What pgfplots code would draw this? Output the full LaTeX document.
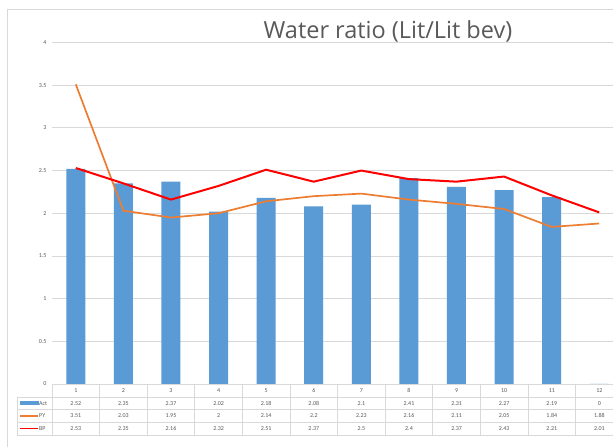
\documentclass[border=0pt]{standalone}
\usepackage{fontspec}
\setmainfont{Carlito}
\newfontfamily\titlefont{Open Sans}
\usepackage{pgfplots}
\pgfplotsset{compat=1.18}
\definecolor{actblue}{RGB}{91,155,213}
\definecolor{pyorange}{RGB}{237,125,49}
\definecolor{bpred}{RGB}{255,0,0}
\definecolor{txtgray}{RGB}{89,89,89}
\definecolor{gridgray}{RGB}{217,217,217}

\begin{document}
\begin{tikzpicture}[x=1pt,y=1pt]
\useasboundingbox (0,0) rectangle (613,447);
\clip (0,0) rectangle (613,447);
\fill[white] (0,0) rectangle (613,447);
% chart frame
\draw[gridgray, line width=0.8pt] (7,-5) rectangle (640,438);
\node[text=txtgray, font=\titlefont\fontsize{23.5}{27}\selectfont] at (388,416) {Water ratio (Lit/Lit bev)};

\begin{axis}[
  at={(52pt,63pt)}, anchor=south west,
  width=571pt, height=341.5pt, scale only axis,
  xmin=0.5, xmax=12.5, ymin=0, ymax=4,
  axis line style={draw=none},
  xtick=\empty,
  ytick={0,0.5,...,4},
  ymajorgrids, grid style={gridgray, line width=0.8pt},
  major tick length=0pt,
  yticklabel style={font=\fontsize{6}{7}\selectfont, text=txtgray, xshift=-2pt},
  /pgf/number format/assume math mode=true,
  clip=false,
]
  % Act
  \addplot[ybar, bar width=19pt, fill=actblue, draw=none]
    coordinates {(1,2.52)(2,2.35)(3,2.37)(4,2.02)(5,2.18)(6,2.08)
                 (7,2.1)(8,2.41)(9,2.31)(10,2.27)(11,2.19)(12,0)};
  % PY
  \addplot[pyorange, line width=1.7pt]
    coordinates {(1,3.51)(2,2.03)(3,1.95)(4,2)(5,2.14)(6,2.2)
                 (7,2.23)(8,2.16)(9,2.11)(10,2.05)(11,1.84)(12,1.88)};
  % BP
  \addplot[bpred, line width=2pt]
    coordinates {(1,2.53)(2,2.35)(3,2.16)(4,2.32)(5,2.51)(6,2.37)
                 (7,2.5)(8,2.4)(9,2.37)(10,2.43)(11,2.21)(12,2.01)};
\end{axis}

% data table under the axis
\begin{scope}[gridgray, line width=0.8pt]
  \draw (52,63) -- (640,63);
  \foreach \yy in {50,37.5,25,12} \draw (17,\yy) -- (640,\yy);
  \draw (17,50) -- (17,12);
  \foreach \k in {0,...,12} \draw ({52+\k*47.6},63) -- ({52+\k*47.6},12);
\end{scope}
\begin{scope}[font=\fontsize{6}{7}\selectfont, text=txtgray]
  \foreach \k in {1,...,12} \node at ({52+(\k-0.5)*47.6},56.5) {\k};
  \foreach \v [count=\k] in {2.52,2.35,2.37,2.02,2.18,2.08,2.1,2.41,2.31,2.27,2.19,0}
    \node at ({52+(\k-0.5)*47.6},43.75) {\v};
  \foreach \v [count=\k] in {3.51,2.03,1.95,2,2.14,2.2,2.23,2.16,2.11,2.05,1.84,1.88}
    \node at ({52+(\k-0.5)*47.6},31.25) {\v};
  \foreach \v [count=\k] in {2.53,2.35,2.16,2.32,2.51,2.37,2.5,2.4,2.37,2.43,2.21,2.01}
    \node at ({52+(\k-0.5)*47.6},18.5) {\v};
  \fill[actblue] (20,41.75) rectangle (39,45.75);
  \node[anchor=west, inner sep=0pt] at (39,43.75) {Act};
  \draw[pyorange, line width=1.6pt] (20,31.25) -- (38,31.25);
  \node[anchor=west, inner sep=0pt] at (39,31.25) {PY};
  \draw[bpred, line width=1.8pt] (20,18.5) -- (38,18.5);
  \node[anchor=west, inner sep=0pt] at (39,18.5) {BP};
\end{scope}
\end{tikzpicture}
\end{document}
